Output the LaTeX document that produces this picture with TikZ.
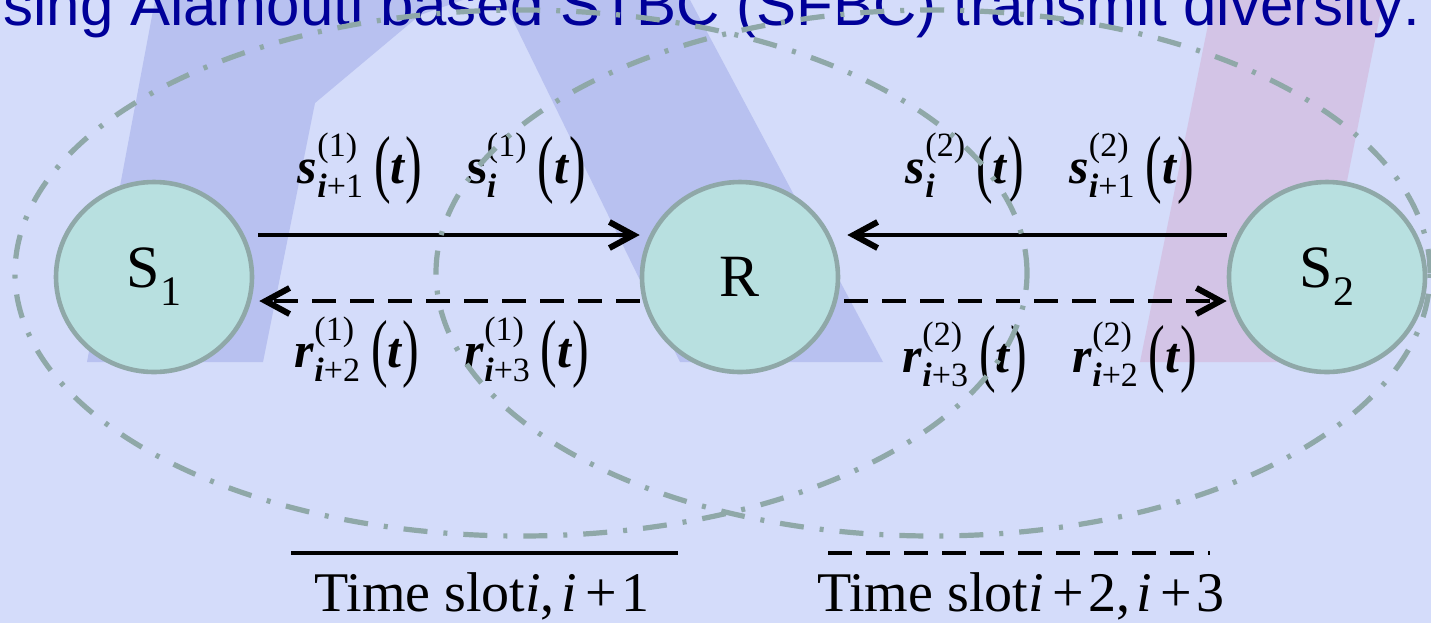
\documentclass[tikz,border=0pt]{standalone}
\usepackage{graphicx}
\usepackage{fontspec}
\setmainfont{Liberation Serif}
\setsansfont{Liberation Sans}
\usetikzlibrary{arrows.meta,shapes.geometric}
\definecolor{bgbase}{HTML}{D4DCFA}
\definecolor{bgdark}{HTML}{B8C1F0}
\definecolor{bgpink}{HTML}{D3C4E6}
\definecolor{nodefill}{HTML}{B8E0E0}
\definecolor{edgegray}{HTML}{8FA8A8}
\definecolor{titleblue}{HTML}{000099}
\newlength\supw
\newlength\subw
\newcommand\bi[1]{\textbf{\textit{#1}}}
\newcommand\sfnt{\fontsize{17}{17}\selectfont\normalfont}
\newcommand\lpar{\raisebox{-0.11em}{\scalebox{1}[1.5]{(}}}
\newcommand\rpar{\raisebox{-0.11em}{\scalebox{1}[1.5]{)}}}
\newcommand\term[3]{#1\settowidth\supw{\sfnt(#2)}\settowidth\subw{\sfnt #3}%
  \rlap{\raisebox{13.5pt}{\sfnt(#2)}}\raisebox{-7pt}{\sfnt #3}%
  \ifdim\supw>\subw\hspace{\dimexpr\supw-\subw\relax}\fi
  \hspace{0.22em}\lpar\bi{t}\rpar}
\begin{document}
\begin{tikzpicture}[x=0.5pt,y=-0.5pt,
  station/.style={ellipse, minimum width=98pt, minimum height=95pt, inner sep=0pt,
    fill=nodefill, draw=edgegray, line width=2.3pt, font=\fontsize{30}{36}\selectfont},
  link/.style={line width=2pt, draw=black},
  linktip/.style={-{Straight Barb[length=12pt,width=13pt,line width=3pt]}},
  dashlink/.style={link, dash pattern=on 12pt off 7pt},
  zone/.style={draw=edgegray, line width=2.6pt, dash pattern=on 12pt off 8pt on 2pt off 8pt},
  lbl/.style={font=\fontsize{25}{30}\selectfont, inner sep=0pt, anchor=base},
  legendtext/.style={font=\fontsize{28}{34}\selectfont, inner sep=0pt, anchor=base}
]
% background
\useasboundingbox (0,0) rectangle (1431,623);
\fill[bgbase] (0,0) rectangle (1431,623);
\fill[bgdark] (155,0) -- (87,362) -- (263,362) -- (315,103) -- (420,15) -- (463,0) -- cycle;
\fill[bgdark] (503,0) -- (690,0) -- (883,362) -- (680,362) -- cycle;
\fill[bgpink] (1213,0) -- (1383,0) -- (1311,362) -- (1140,362) -- cycle;

% title (partly cut off at the top)
\node[anchor=base west, inner sep=0pt, font=\fontsize{30}{36}\selectfont\sffamily, text=titleblue]
  (title) at (3,25) {sing Alamouti based STBC (SFBC) transmit diversity:};

% stations
\node[station] (S1) at (154,277) {S\raisebox{-0.3em}{\fontsize{21}{21}\selectfont 1}};
\node[station] (R)  at (740,277) {R};
\node[station] (S2) at (1327,277) {S\raisebox{-0.3em}{\fontsize{21}{21}\selectfont 2}};

\coordinate (ytop) at (0,235);
\coordinate (ybot) at (0,301);

% links
\draw[link, linktip, shorten <=2pt] (S1.east|-ytop) -- (R.west|-ytop);
\draw[dashlink, linktip, shorten >=2.5pt] (R.west|-ybot) -- (S1.east|-ybot);
\draw[link, linktip, shorten >=3.5pt] (S2.west|-ytop) -- (R.east|-ytop);
\draw[dashlink, linktip, shorten <=2pt] (R.east|-ybot) -- (S2.west|-ybot);

% labels
\node[lbl] (l1) at (442,183) {\term{\bi{s}}{1}{\bi{i}+1}\hspace{0.9em}\term{\textbf{s}}{1}{\bi{i}}};
\node[lbl] (l2) at (1050,183) {\term{\bi{s}}{2}{\bi{i}}\hspace{0.9em}\term{\bi{s}}{2}{\bi{i}+1}};
\node[lbl] (l3) at (442,367) {\term{\bi{r}}{1}{\bi{i}+2}\hspace{0.9em}\term{\bi{r}}{1}{\bi{i}+3}};
\node[lbl] (l4) at (1050,372) {\term{\bi{r}}{2}{\bi{i}+3}\hspace{0.9em}\term{\bi{r}}{2}{\bi{i}+2}};

% legend
\coordinate (la) at (291,553);
\coordinate (lb) at (678,553);
\coordinate (lc) at (828,553);
\coordinate (ld) at (1210,553);
\draw[link] (la) -- (lb);
\draw[dashlink] (lc) -- (ld);
\node[legendtext] (t1) at (482,611) {Time slot\textit{i},\kern0.12em\textit{i}\kern0.15em+\kern0.08em1};
\node[legendtext] (t2) at (1021,611) {Time slot\textit{i}\kern0.15em+\kern0.08em2,\kern0.12em\textit{i}\kern0.15em+\kern0.08em3};

% zones
\draw[zone] (521,273) ellipse [x radius=253pt, y radius=131.5pt];
\draw[zone] (933,273) ellipse [x radius=248.5pt, y radius=131.5pt];
\end{tikzpicture}
\end{document}
